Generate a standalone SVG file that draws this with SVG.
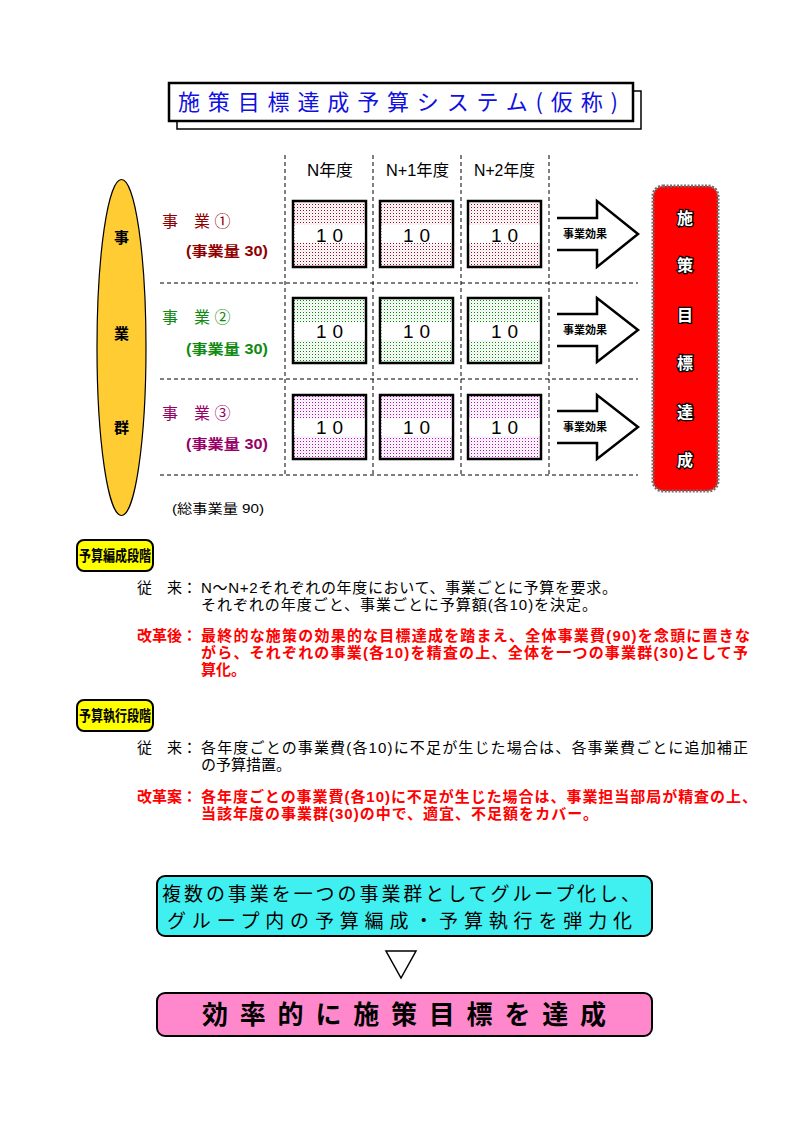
<svg xmlns="http://www.w3.org/2000/svg" width="794" height="1123" viewBox="0 0 794 1123">
<style>
text{font-family:"Liberation Sans","Noto Sans CJK JP",sans-serif}
.jp{font-family:"Noto Sans CJK JP",sans-serif}
.dash{stroke:#000;stroke-width:1;stroke-dasharray:4 3;fill:none}
.box{stroke:#000;stroke-width:2.5}
.num{font-size:19px;fill:#000}
.arrow{fill:#fff;stroke:#000;stroke-width:2.5;stroke-linejoin:miter}
.eff{font-size:11px;font-weight:bold;text-anchor:middle;fill:#000}
.hdr{font-size:16px;fill:#000}
.lbl{font-size:15px;fill:#000}
.red{font-size:15px;fill:#f00;font-weight:bold}
.tag{fill:#ff0;stroke:#000;stroke-width:2}
.tagt{font-size:15px;font-weight:bold;fill:#000}
.goal{font-size:16px;font-weight:bold;fill:#fff;stroke:#000;stroke-width:2.5;paint-order:stroke;text-anchor:middle}
</style>
<defs>
<pattern id="p1" width="3" height="3" patternUnits="userSpaceOnUse"><rect width="3" height="3" fill="#fff"/><rect width="1" height="1" fill="#a00020"/><rect x="1.5" y="1.5" width="1" height="1" fill="#e8b0b0"/></pattern>
<pattern id="p2" width="3" height="3" patternUnits="userSpaceOnUse"><rect width="3" height="3" fill="#fff"/><rect width="1" height="1" fill="#008a00"/><rect x="1.5" y="1.5" width="1" height="1" fill="#b0e0b0"/></pattern>
<pattern id="p3" width="3" height="3" patternUnits="userSpaceOnUse"><rect width="3" height="3" fill="#fff"/><rect width="1" height="1" fill="#c000c0"/><rect x="1.5" y="1.5" width="1" height="1" fill="#f4b0f4"/></pattern>
</defs>

<g id="title">
<rect x="177" y="91" width="464" height="38" fill="none" stroke="#000" stroke-width="1.5"/>
<rect x="169" y="83" width="464" height="38" fill="#fff" stroke="#000" stroke-width="2.5"/>
<text x="178" y="110" class="jp" font-size="22" fill="#1010e0" textLength="440" lengthAdjust="spacing">施策目標達成予算システム(仮称)</text>
</g>

<g id="grid">
<line class="dash" x1="285" y1="155" x2="285" y2="475"/>
<line class="dash" x1="373" y1="155" x2="373" y2="475"/>
<line class="dash" x1="461" y1="155" x2="461" y2="475"/>
<line class="dash" x1="549" y1="155" x2="549" y2="475"/>
<line class="dash" x1="160" y1="283" x2="638" y2="283"/>
<line class="dash" x1="160" y1="379" x2="638" y2="379"/>
<line class="dash" x1="160" y1="475" x2="638" y2="475"/>
</g>

<g id="headers">
<text class="hdr" x="307" y="176" textLength="46" lengthAdjust="spacingAndGlyphs">N年度</text>
<text class="hdr" x="386" y="176" textLength="63" lengthAdjust="spacingAndGlyphs">N+1年度</text>
<text class="hdr" x="474" y="176" textLength="61" lengthAdjust="spacingAndGlyphs">N+2年度</text>
</g>

<g id="group">
<ellipse cx="121.5" cy="347.5" rx="24.5" ry="168" fill="#ffcc33" stroke="#000" stroke-width="1.2"/>
<text x="121.5" y="243" class="lbl" text-anchor="middle" font-weight="bold">事</text>
<text x="121.5" y="339" class="lbl" text-anchor="middle" font-weight="bold">業</text>
<text x="121.5" y="433" class="lbl" text-anchor="middle" font-weight="bold">群</text>
</g>

<g id="row1">
<text x="162" y="227" font-size="16" fill="#900000">事　業 ①</text>
<text x="186" y="256" font-size="14" font-weight="bold" fill="#900000" textLength="82" lengthAdjust="spacingAndGlyphs">(事業量 30)</text>
<rect class="box" x="293" y="201" width="73" height="66" fill="url(#p1)"/><rect x="294.5" y="225" width="70" height="18" fill="#fff"/><text class="num" x="316" y="242" textLength="27" lengthAdjust="spacing">1 0</text>
<rect class="box" x="380" y="201" width="73" height="66" fill="url(#p1)"/><rect x="381.5" y="225" width="70" height="18" fill="#fff"/><text class="num" x="403" y="242" textLength="27" lengthAdjust="spacing">1 0</text>
<rect class="box" x="468" y="201" width="73" height="66" fill="url(#p1)"/><rect x="469.5" y="225" width="70" height="18" fill="#fff"/><text class="num" x="491" y="242" textLength="27" lengthAdjust="spacing">1 0</text>
</g>

<g id="row2">
<text x="162" y="323" font-size="16" fill="#108a10">事　業 ②</text>
<text x="186" y="354" font-size="14" font-weight="bold" fill="#108a10" textLength="82" lengthAdjust="spacingAndGlyphs">(事業量 30)</text>
<rect class="box" x="293" y="298" width="73" height="65" fill="url(#p2)"/><rect x="294.5" y="322" width="70" height="18" fill="#fff"/><text class="num" x="316" y="338" textLength="27" lengthAdjust="spacing">1 0</text>
<rect class="box" x="380" y="298" width="73" height="65" fill="url(#p2)"/><rect x="381.5" y="322" width="70" height="18" fill="#fff"/><text class="num" x="403" y="338" textLength="27" lengthAdjust="spacing">1 0</text>
<rect class="box" x="468" y="298" width="73" height="65" fill="url(#p2)"/><rect x="469.5" y="322" width="70" height="18" fill="#fff"/><text class="num" x="491" y="338" textLength="27" lengthAdjust="spacing">1 0</text>
</g>

<g id="row3">
<text x="162" y="419" font-size="16" fill="#990066">事　業 ③</text>
<text x="186" y="449" font-size="14" font-weight="bold" fill="#990066" textLength="82" lengthAdjust="spacingAndGlyphs">(事業量 30)</text>
<rect class="box" x="293" y="395" width="73" height="64" fill="url(#p3)"/><rect x="294.5" y="418" width="70" height="18" fill="#fff"/><text class="num" x="316" y="434" textLength="27" lengthAdjust="spacing">1 0</text>
<rect class="box" x="380" y="395" width="73" height="64" fill="url(#p3)"/><rect x="381.5" y="418" width="70" height="18" fill="#fff"/><text class="num" x="403" y="434" textLength="27" lengthAdjust="spacing">1 0</text>
<rect class="box" x="468" y="395" width="73" height="64" fill="url(#p3)"/><rect x="469.5" y="418" width="70" height="18" fill="#fff"/><text class="num" x="491" y="434" textLength="27" lengthAdjust="spacing">1 0</text>
</g>

<g id="total">
<text x="172" y="513" font-size="13" fill="#000" textLength="92" lengthAdjust="spacingAndGlyphs">(総事業量 90)</text>
</g>

<g id="connectors">
<path class="arrow" d="M557,218 H597 V201 L638,234 L597,267 V250 H557"/>
<path class="arrow" d="M557,314 H597 V298 L638,330 L597,362 V346 H557"/>
<path class="arrow" d="M557,411 H597 V395 L638,427 L597,459 V443 H557"/>
<text class="eff" x="585" y="238">事業効果</text>
<text class="eff" x="585" y="334">事業効果</text>
<text class="eff" x="585" y="431">事業効果</text>
</g>

<g id="goal">
<rect x="653" y="186" width="65" height="305" rx="10" fill="#ff0000" stroke="#707070" stroke-width="3" stroke-dasharray="2 1.5"/>
<text class="goal" x="685" y="224">施</text>
<text class="goal" x="685" y="271">策</text>
<text class="goal" x="685" y="321">目</text>
<text class="goal" x="685" y="369">標</text>
<text class="goal" x="685" y="418">達</text>
<text class="goal" x="685" y="466">成</text>
</g>

<g id="section1">
<rect class="tag" x="77" y="540" width="76" height="31" rx="7"/>
<text class="tagt" x="79" y="561" textLength="72" lengthAdjust="spacingAndGlyphs">予算編成段階</text>
<text class="lbl" x="137" y="593" textLength="60" lengthAdjust="spacing">従　来：</text>
<text class="lbl" x="201" y="593" textLength="416" lengthAdjust="spacing">N〜N+2それぞれの年度において、事業ごとに予算を要求。</text>
<text class="lbl" x="201" y="610" textLength="396" lengthAdjust="spacing">それぞれの年度ごと、事業ごとに予算額(各10)を決定。</text>
<text class="red" x="137" y="641" textLength="60" lengthAdjust="spacing">改革後：</text>
<text class="red" x="201" y="641" textLength="549" lengthAdjust="spacing">最終的な施策の効果的な目標達成を踏まえ、全体事業費(90)を念頭に置きな</text>
<text class="red" x="201" y="658" textLength="547" lengthAdjust="spacing">がら、それぞれの事業(各10)を精査の上、全体を一つの事業群(30)として予</text>
<text class="red" x="201" y="675">算化。</text>
</g>

<g id="section2">
<rect class="tag" x="77" y="700" width="76" height="31" rx="7"/>
<text class="tagt" x="79" y="721" textLength="72" lengthAdjust="spacingAndGlyphs">予算執行段階</text>
<text class="lbl" x="137" y="753" textLength="60" lengthAdjust="spacing">従　来：</text>
<text class="lbl" x="201" y="753" textLength="547" lengthAdjust="spacing">各年度ごとの事業費(各10)に不足が生じた場合は、各事業費ごとに追加補正</text>
<text class="lbl" x="201" y="770">の予算措置。</text>
<text class="red" x="137" y="802" textLength="60" lengthAdjust="spacing">改革案：</text>
<text class="red" x="201" y="802" textLength="556" lengthAdjust="spacing">各年度ごとの事業費(各10)に不足が生じた場合は、事業担当部局が精査の上、</text>
<text class="red" x="201" y="819" textLength="397" lengthAdjust="spacing">当該年度の事業群(30)の中で、適宜、不足額をカバー。</text>
</g>

<g id="summary">
<rect x="157" y="876" width="495" height="60" rx="8" fill="#40f0f0" stroke="#000" stroke-width="2"/>
<text x="162" y="901" class="jp" font-size="19" fill="#000" textLength="478" lengthAdjust="spacing">複数の事業を一つの事業群としてグループ化し、</text>
<text x="167" y="928" class="jp" font-size="19" fill="#000" textLength="465" lengthAdjust="spacing">グループ内の予算編成・予算執行を弾力化</text>
</g>

<g id="down-arrow">
<polygon points="386,951 416,951 401,978" fill="#fff" stroke="#000" stroke-width="1.5"/>
</g>

<g id="result">
<rect x="157" y="993" width="495" height="43" rx="8" fill="#ff88cc" stroke="#000" stroke-width="2"/>
<text x="202" y="1024" class="jp" font-size="26" font-weight="bold" fill="#000" textLength="404" lengthAdjust="spacing">効率的に施策目標を達成</text>
</g>
</svg>
